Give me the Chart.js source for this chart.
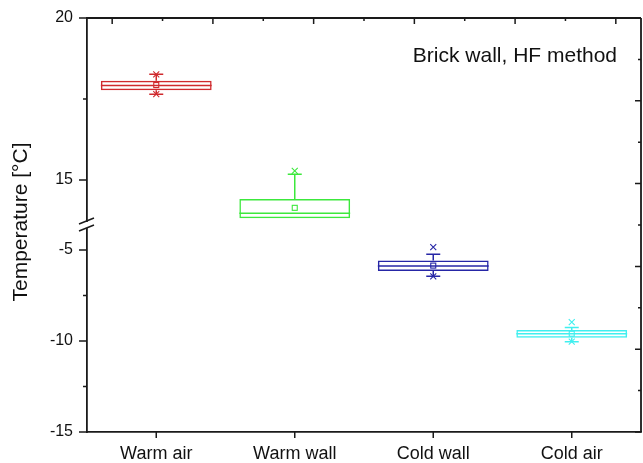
<!DOCTYPE html>
<html>
<head>
<meta charset="utf-8">
<script src="https://cdn.jsdelivr.net/npm/chart.js@4/dist/chart.umd.min.js"></script>
<style>
  html, body { margin: 0; padding: 0; background: #ffffff; }
  #wrap { width: 643px; height: 463px; }
</style>
</head>
<body>
<div id="wrap"><canvas id="c" width="643" height="463"></canvas></div>
<script>
// Box statistics per location (°C)
const categories  = ['Warm air', 'Warm wall', 'Cold wall', 'Cold air'];
const q1          = [17.77, 13.82, -6.15, -9.82];
const median      = [17.92, 13.97, -5.88, -9.60];
const q3          = [18.06, 14.41, -5.58, -9.40];
const whiskerLow  = [17.65, 13.82, -6.45, -10.04];
const whiskerHigh = [18.26, 15.18, -5.24, -9.26];
const meanValues  = [17.93, 14.14, -5.86, -9.60];
const pctLow      = [17.65, null, -6.45, -10.04];
const pctHigh     = [18.26, 15.28, -4.84, -8.97];

// Labelled ticks on the two halves of the broken axis
const upperTickLabels = [15, 20];
const lowerTickLabels = [-15, -10, -5];

// Which half of the broken axis each box sits on
const axisOf = ['yUpper', 'yUpper', 'yLower', 'yLower'];

const boxColors = ['#d02a2e', '#3ce83c', '#2626a6', '#40efef'];
const FONT = "'Liberation Sans', Arial, sans-serif";

const datasets = categories.map((name, i) => ({
  label: name,
  yAxisID: axisOf[i],
  data: categories.map((_, j) => (j === i ? [q1[i], q3[i]] : null)),
  backgroundColor: 'rgba(0,0,0,0)',
  borderColor: boxColors[i],
  borderWidth: 1.5,
  borderSkipped: false,
  grouped: false,
  barPercentage: 0.8,
  categoryPercentage: 1.0
}));

const boxExtras = {
  id: 'boxExtras',
  afterDatasetsDraw(chart) {
    const ctx = chart.ctx;
    ctx.save();
    categories.forEach((_, i) => {
      const el = chart.getDatasetMeta(i).data[i];
      if (!el) return;
      const ys = chart.scales[axisOf[i]];
      const cx = el.x, half = el.width / 2;
      const py = v => ys.getPixelForValue(v);
      ctx.strokeStyle = boxColors[i];
      ctx.lineWidth = 1.5;
      // median
      ctx.beginPath();
      ctx.moveTo(cx - half, py(median[i]));
      ctx.lineTo(cx + half, py(median[i]));
      ctx.stroke();
      // whiskers and caps
      const capW = 7;
      [[q3[i], whiskerHigh[i]], [q1[i], whiskerLow[i]]].forEach(([from, to]) => {
        if (Math.abs(py(from) - py(to)) < 1) return;
        ctx.beginPath();
        ctx.moveTo(cx, py(from));
        ctx.lineTo(cx, py(to));
        ctx.moveTo(cx - capW, py(to));
        ctx.lineTo(cx + capW, py(to));
        ctx.stroke();
      });
      // 1% / 99% crosses
      ctx.lineWidth = 1.1;
      [pctLow[i], pctHigh[i]].forEach(v => {
        if (v === null) return;
        const y = py(v), s = 3;
        ctx.beginPath();
        ctx.moveTo(cx - s, y - s); ctx.lineTo(cx + s, y + s);
        ctx.moveTo(cx + s, y - s); ctx.lineTo(cx - s, y + s);
        ctx.stroke();
      });
      // mean marker
      const my = py(meanValues[i]);
      ctx.strokeRect(cx - 2.5, my - 2.5, 5, 5);
    });
    ctx.restore();
  }
};

const frame = {
  id: 'frame',
  afterDraw(chart) {
    const ctx = chart.ctx;
    const a = chart.chartArea;
    const top = chart.scales.xTop, right = chart.scales.yRight;
    ctx.save();
    ctx.strokeStyle = '#1a1a1a';
    ctx.lineWidth = 1.8;
    // top and right frame lines
    ctx.beginPath();
    ctx.moveTo(a.left, a.top); ctx.lineTo(a.right, a.top);
    ctx.moveTo(a.right, a.top); ctx.lineTo(a.right, a.bottom);
    ctx.stroke();
    ctx.lineWidth = 1.5;
    ctx.beginPath();
    // inward ticks on top and right
    for (let k = 0; k <= 10; k++) {
      const len = k % 2 === 0 ? 6 : 3;
      const x = top.getPixelForValue(k);
      ctx.moveTo(x, a.top); ctx.lineTo(x, a.top + len);
      const y = right.getPixelForValue(k);
      ctx.moveTo(a.right, y); ctx.lineTo(a.right - len, y);
    }
    // outward ticks on the broken left axis
    ['yUpper', 'yLower'].forEach(id => {
      const s = chart.scales[id];
      s.ticks.forEach(t => {
        const y = s.getPixelForValue(t.value);
        const len = t.value % 5 === 0 ? 8 : 4;
        ctx.moveTo(a.left, y); ctx.lineTo(a.left - len, y);
      });
    });
    // category ticks on the bottom axis
    const xs = chart.scales.x;
    categories.forEach((_, i) => {
      const x = xs.getPixelForValue(i);
      ctx.moveTo(x, a.bottom); ctx.lineTo(x, a.bottom + 6);
    });
    ctx.stroke();
    // axis break
    const yb = chart.scales.yUpper.bottom;
    ctx.fillStyle = '#ffffff';
    ctx.fillRect(a.left - 3, yb - 3, 6, 6);
    ctx.lineWidth = 1.5;
    ctx.beginPath();
    ctx.moveTo(a.left - 8, yb - 1); ctx.lineTo(a.left + 7, yb - 7);
    ctx.moveTo(a.left - 8, yb + 6); ctx.lineTo(a.left + 7, yb);
    ctx.stroke();
    // texts
    ctx.fillStyle = '#111111';
    ctx.font = '21px ' + FONT;
    ctx.textAlign = 'right';
    ctx.textBaseline = 'alphabetic';
    ctx.fillText('Brick wall, HF method', 617, 62);
    ctx.translate(21, (a.top + a.bottom) / 2 - 3);
    ctx.rotate(-Math.PI / 2);
    ctx.textAlign = 'center';
    ctx.textBaseline = 'middle';
    ctx.fillText('Temperature [°C]', 0, 0);
    ctx.restore();
  }
};

const leftAxis = (min, max, labels) => ({
  type: 'linear',
  position: 'left',
  stack: 'temperature',
  stackWeight: 1,
  min: min,
  max: max,
  grid: { display: false, drawTicks: false },
  border: { display: true, color: '#1a1a1a', width: 1.8 },
  ticks: {
    stepSize: 2.5,
    includeBounds: false,
    padding: 14,
    color: '#111111',
    font: { family: FONT, size: 16 },
    callback: v => (labels.includes(v) ? String(v) : '')
  },
  afterFit: s => { s.width = 87; s.paddingTop = 0; s.paddingBottom = 0; }
});

new Chart(document.getElementById('c'), {
  type: 'bar',
  data: { labels: categories, datasets: datasets },
  options: {
    responsive: false,
    animation: false,
    layout: { padding: { top: 18, right: 2, left: 0, bottom: 0 } },
    plugins: { legend: { display: false }, tooltip: { enabled: false } },
    scales: {
      x: {
        type: 'category',
        position: 'bottom',
        grid: { display: false, drawTicks: false },
        border: { display: true, color: '#1a1a1a', width: 1.8 },
        ticks: { padding: 11, color: '#111111', font: { family: FONT, size: 18 } },
        afterFit: s => { s.height = 31; }
      },
      // the stack is laid out bottom-up, so the lower half comes first
      yLower: leftAxis(-15, -3.63, lowerTickLabels),
      yUpper: leftAxis(13.61, 20, upperTickLabels),
      xTop: { type: 'linear', position: 'top', display: false, min: 0, max: 10 },
      yRight: { type: 'linear', position: 'right', display: false, min: 0, max: 10, reverse: true }
    }
  },
  plugins: [boxExtras, frame]
});
</script>
</body>
</html>
